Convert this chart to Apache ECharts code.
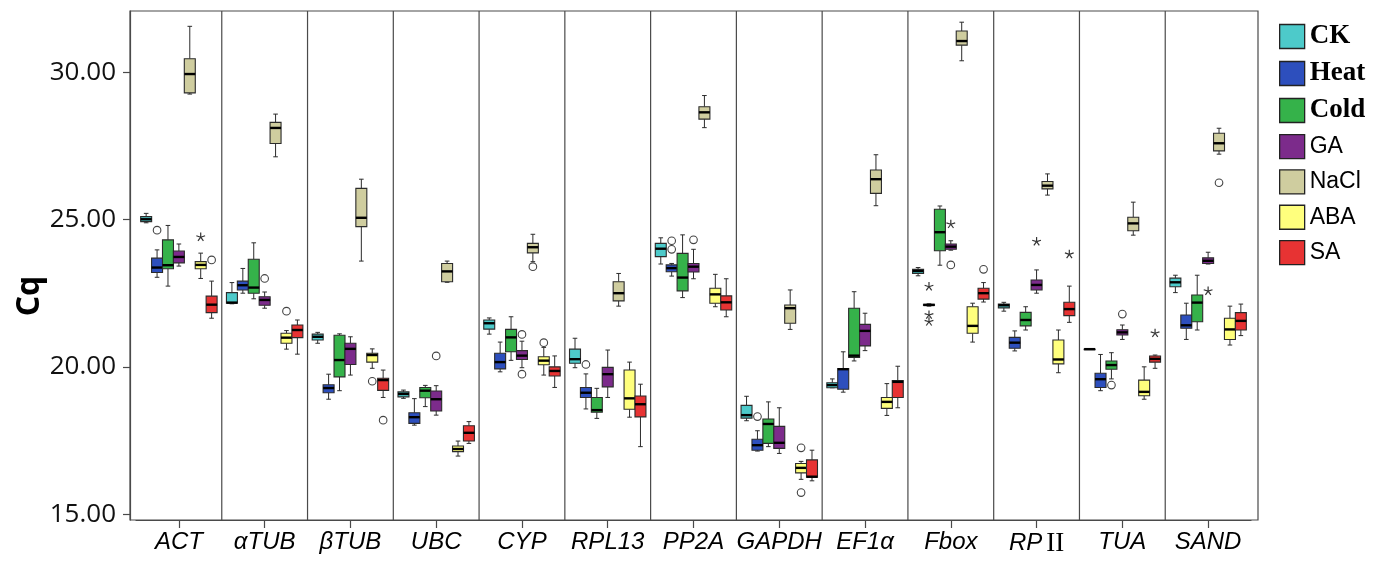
<!DOCTYPE html>
<html><head><meta charset="utf-8">
<script src="https://cdn.jsdelivr.net/npm/echarts@6/dist/echarts.min.js"></script>
<style>html,body{margin:0;padding:0;background:#fff}#c{width:1380px;height:561px}</style>
</head><body><div id="c"></div>
<script>
// ---- data ----
const genes = ['ACT','αTUB','βTUB','UBC','CYP','RPL13','PP2A','GAPDH','EF1α','Fbox','RPII','TUA','SAND'];
const treatments = ['CK','Heat','Cold','GA','NaCl','ABA','SA'];
const yTicks = [15, 20, 25, 30];
// each entry: [min, Q1, median, Q3, max], genes in order above
const ck = [[24.89,24.93,25.01,25.10,25.21],[22.14,22.16,22.18,22.52,22.86],[20.80,20.91,21.02,21.11,21.17],[18.93,18.98,19.08,19.15,19.21],[21.11,21.28,21.48,21.59,21.66],[19.97,20.12,20.26,20.60,20.97],[23.49,23.74,24.01,24.19,24.38],[18.17,18.26,18.36,18.69,19.00],[19.29,19.29,19.38,19.46,19.59],[23.09,23.17,23.25,23.31,23.37],[21.89,22.00,22.09,22.13,22.19],[20.60,20.60,20.60,20.60,20.60],[22.52,22.72,22.87,23.01,23.11]];
const heat = [[23.04,23.20,23.37,23.69,23.97],[22.50,22.61,22.77,22.91,23.34],[18.90,19.12,19.28,19.39,19.75],[18.02,18.08,18.29,18.44,18.92],[19.83,19.93,20.16,20.46,20.84],[18.57,18.96,19.12,19.30,19.76],[23.08,23.23,23.35,23.46,23.51],[17.14,17.17,17.34,17.54,17.83],[19.14,19.24,19.92,19.94,20.51],[22.06,22.08,22.10,22.12,22.14],[20.54,20.63,20.82,21.00,21.22],[19.19,19.30,19.58,19.78,20.42],[20.93,21.31,21.41,21.76,22.16]];
const cold = [[22.74,23.33,23.45,24.31,24.80],[22.31,22.50,22.69,23.65,24.21],[19.19,19.66,20.23,21.07,21.12],[18.65,18.95,19.19,19.30,19.37],[20.22,20.51,21.00,21.27,21.70],[18.25,18.46,18.53,18.96,19.27],[22.35,22.58,23.03,23.85,24.48],[17.29,17.40,18.06,18.23,18.81],[20.20,20.32,20.38,21.99,22.55],[23.45,23.94,24.57,25.35,25.46],[21.25,21.39,21.59,21.85,22.04],[19.59,19.92,20.06,20.20,20.48],[21.25,21.53,22.18,22.44,23.11]];
const ga = [[23.42,23.53,23.73,23.93,24.17],[21.99,22.09,22.27,22.38,22.54],[19.72,20.08,20.61,20.80,21.02],[18.36,18.50,18.90,19.18,19.36],[19.97,20.25,20.38,20.55,20.87],[18.96,19.32,19.75,19.98,20.57],[22.99,23.22,23.40,23.51,23.99],[17.06,17.23,17.42,17.98,18.61],[20.55,20.71,21.22,21.44,21.82],[23.96,23.99,24.08,24.17,24.28],[22.50,22.61,22.78,22.95,23.29],[20.93,21.08,21.17,21.26,21.42],[23.49,23.51,23.60,23.70,23.89]];
const nacl = [[29.26,29.30,29.94,30.46,31.56],[27.13,27.58,28.11,28.30,28.58],[23.59,24.76,25.06,26.06,26.37],[22.87,22.89,23.24,23.51,23.59],[23.57,23.87,24.06,24.19,24.50],[22.06,22.24,22.50,22.89,23.17],[28.12,28.41,28.64,28.83,29.21],[21.27,21.48,21.99,22.10,22.61],[25.47,25.89,26.37,26.68,27.20],[30.39,30.92,31.06,31.40,31.70],[25.83,26.04,26.15,26.29,26.55],[24.47,24.62,24.87,25.08,25.59],[27.22,27.33,27.59,27.93,28.10]];
const aba = [[23.00,23.33,23.46,23.57,23.86],[20.60,20.80,20.99,21.14,21.23],[19.95,20.16,20.40,20.46,20.61],[16.97,17.12,17.21,17.31,17.48],[19.72,20.07,20.21,20.34,20.66],[18.29,18.56,18.93,19.89,20.16],[22.04,22.16,22.46,22.67,23.14],[16.18,16.40,16.57,16.72,16.79],[18.35,18.59,18.81,18.96,19.43],[20.84,21.14,21.39,22.04,22.16],[19.80,20.10,20.25,20.91,21.25],[18.90,19.02,19.15,19.55,20.00],[20.74,20.93,21.27,21.65,22.06]];
const sa = [[21.65,21.84,22.11,22.40,22.91],[20.43,20.99,21.25,21.42,21.59],[18.96,19.20,19.55,19.61,19.89],[17.40,17.48,17.76,18.00,18.14],[19.30,19.69,19.86,20.00,20.37],[17.29,18.30,18.73,19.01,19.41],[21.70,21.93,22.19,22.41,22.99],[16.13,16.25,16.27,16.84,17.17],[18.61,18.96,19.49,19.53,20.02],[22.20,22.30,22.50,22.67,22.86],[21.51,21.74,21.96,22.19,22.74],[19.95,20.16,20.27,20.37,20.40],[21.06,21.25,21.56,21.84,22.13]];
// outliers (circles) and extremes (stars): [geneIndex, treatmentIndex, value]
const circlePoints = [[0,1,24.64],[5,1,20.08],[6,1,24.28],[6,1,23.99],[7,1,18.31],[11,2,19.38],
  [1,3,23.00],[3,3,20.37],[4,3,21.10],[4,3,19.75],[6,3,24.31],[9,3,23.46],[11,3,21.79],
  [4,4,23.40],[12,4,26.25],[1,5,21.89],[2,5,19.51],[4,5,20.82],[7,5,17.25],[7,5,15.73],
  [0,6,23.63],[2,6,18.19],[9,6,23.31]];
const starPoints = [[9,1,22.72],[9,1,21.76],[9,1,21.53],[9,3,24.84],[10,3,24.25],[12,3,22.57],
  [0,5,24.40],[10,6,23.82],[11,6,21.14]];

// ---- style ----
const colors = ['#4dcaca','#2d4fbd','#35b24a','#7c2b8b','#cfcd9f','#ffff7d','#e73333'];
const boldLegend = ['CK','Heat','Cold'];
const SLOT = 0.1272, BOXW = 0.128;
const boxData = [ck, heat, cold, ga, nacl, aba, sa];
const LINE = '#2b2b2b';

function slotX(api, cat, t) {
  const band = api.size([1, 0])[0];
  return api.coord([cat, 20])[0] + (t - 3) * band * SLOT;
}

function boxSeries(t) {
  return {
    type: 'custom', name: treatments[t], xAxisIndex: 1, yAxisIndex: 1, z: 3,
    itemStyle: {color: colors[t], borderColor: LINE, borderWidth: 1},
    data: boxData[t].map((b, i) => [i].concat(b)),
    encode: {x: 0, y: [1, 2, 3, 4, 5]},
    renderItem: function (params, api) {
      const cat = api.value(0);
      const band = api.size([1, 0])[0];
      const cx = slotX(api, cat, t);
      const w = band * BOXW, cap = w * 0.42;
      const y = k => api.coord([cat, api.value(k)])[1];
      const yMin = y(1), yQ1 = y(2), yMed = y(3), yQ3 = y(4), yMax = y(5);
      const ls = {stroke: LINE, lineWidth: 1};
      const ch = [
        {type: 'line', shape: {x1: cx, y1: yMax, x2: cx, y2: yQ3}, style: ls},
        {type: 'line', shape: {x1: cx, y1: yQ1, x2: cx, y2: yMin}, style: ls},
        {type: 'line', shape: {x1: cx - cap / 2, y1: yMax, x2: cx + cap / 2, y2: yMax}, style: ls},
        {type: 'line', shape: {x1: cx - cap / 2, y1: yMin, x2: cx + cap / 2, y2: yMin}, style: ls},
        {type: 'rect', shape: {x: cx - w / 2, y: yQ3, width: w, height: Math.max(yQ1 - yQ3, 0.5)},
          style: {fill: colors[t], stroke: LINE, lineWidth: 1.1}},
        {type: 'line', shape: {x1: cx - w / 2, y1: yMed, x2: cx + w / 2, y2: yMed},
          style: {stroke: '#000', lineWidth: 2.4}}
      ];
      return {type: 'group', children: ch};
    }
  };
}

function pointSeries(points, kind) {
  return {
    type: 'custom', name: kind, xAxisIndex: 1, yAxisIndex: 1, z: 4, silent: true,
    data: points.map(p => [p[0], p[2], p[1]]),
    encode: {x: 0, y: 1},
    renderItem: function (params, api) {
      const cat = api.value(0), t = api.value(2);
      const cx = slotX(api, cat, t);
      const cy = api.coord([cat, api.value(1)])[1];
      if (kind === 'circle') {
        return {type: 'circle', shape: {cx: cx, cy: cy, r: 3.8},
          style: {fill: '#fff', stroke: '#444', lineWidth: 1.1}};
      }
      const arms = [];
      for (let a = 0; a < 5; a++) {
        const ang = -Math.PI / 2 + a * 2 * Math.PI / 5;
        arms.push({type: 'line', shape: {x1: cx, y1: cy, x2: cx + 4.6 * Math.cos(ang), y2: cy + 4.6 * Math.sin(ang)},
          style: {stroke: '#333', lineWidth: 1.2}});
      }
      return {type: 'group', children: arms};
    }
  };
}

const dividerSeries = {
  type: 'custom', name: 'divider', xAxisIndex: 1, yAxisIndex: 1, z: 1, silent: true,
  data: genes.slice(1).map((g, i) => [i]),
  encode: {x: 0},
  renderItem: function (params, api) {
    const band = api.size([1, 0])[0];
    const x = api.coord([api.value(0), 20])[0] + band / 2;
    const cs = params.coordSys;
    return {type: 'line', shape: {x1: x, y1: cs.y, x2: x, y2: cs.y + cs.height},
      style: {stroke: '#4a4a4a', lineWidth: 1.2}};
  }
};

const chart = echarts.init(document.getElementById('c'));
chart.setOption({
  animation: false,
  backgroundColor: '#fff',
  grid: [
    {left: 130, right: 122, top: 11, bottom: 41, show: true, borderColor: '#4a4a4a', borderWidth: 1.2},
    {left: 136, right: 129, top: 11, bottom: 41}
  ],
  xAxis: [
    {gridIndex: 0, type: 'value', min: 0, max: 1, show: false},
    {gridIndex: 1, type: 'category', data: genes, boundaryGap: true,
      axisLine: {show: true, lineStyle: {color: '#4a4a4a', width: 1.2}},
      axisTick: {show: true, alignWithLabel: true, length: 8, lineStyle: {color: '#4a4a4a', width: 1.2}},
      splitLine: {show: false},
      axisLabel: {interval: 0, margin: 10, color: '#000', fontSize: 24, fontStyle: 'italic',
        fontFamily: 'Liberation Sans',
        formatter: v => v === 'RPII' ? '{i|RP}{r|II}' : v,
        rich: {
          i: {fontStyle: 'italic', fontFamily: 'Liberation Sans', fontSize: 24, color: '#000'},
          r: {fontStyle: 'normal', fontFamily: 'Liberation Serif', fontSize: 27, color: '#000', padding: [0, 0, 0, 4]}
        }}
    }
  ],
  yAxis: [
    {gridIndex: 0, type: 'value', min: 14.8, max: 32.08,
      axisLine: {show: true, lineStyle: {color: '#4a4a4a', width: 1.2}},
      axisTick: {show: true, customValues: yTicks, length: 7, lineStyle: {color: '#4a4a4a', width: 1.2}},
      axisLabel: {customValues: yTicks, formatter: v => v.toFixed(2), margin: 14,
        fontFamily: 'Open Sans', fontSize: 26, color: '#111'},
      splitLine: {show: false}},
    {gridIndex: 1, type: 'value', min: 14.8, max: 32.08, show: false}
  ],
  legend: {
    data: treatments, orient: 'vertical', left: 1279, top: 23, padding: 0,
    itemWidth: 25, itemHeight: 24, itemGap: 10, icon: 'rect', selectedMode: false,
    itemStyle: {borderColor: '#222', borderWidth: 1.3},
    formatter: name => (boldLegend.indexOf(name) >= 0 ? '{b|' : '{n|') + name + '}',
    textStyle: {
      color: '#000', lineHeight: 24,
      rich: {
        b: {fontFamily: 'Liberation Serif', fontWeight: 'bold', fontSize: 27, lineHeight: 24, color: '#000'},
        n: {fontFamily: 'Liberation Sans', fontSize: 23, lineHeight: 24, color: '#000'}
      }
    }
  },
  graphic: [{
    type: 'text', x: 30, y: 296, rotation: Math.PI / 2,
    style: {text: 'Cq', fill: '#000', font: 'bold 32px "Open Sans"', align: 'center', verticalAlign: 'middle'}
  }],
  series: [dividerSeries].concat(treatments.map((n, t) => boxSeries(t)),
    [pointSeries(circlePoints, 'circle'), pointSeries(starPoints, 'star')])
});
</script>
</body></html>
